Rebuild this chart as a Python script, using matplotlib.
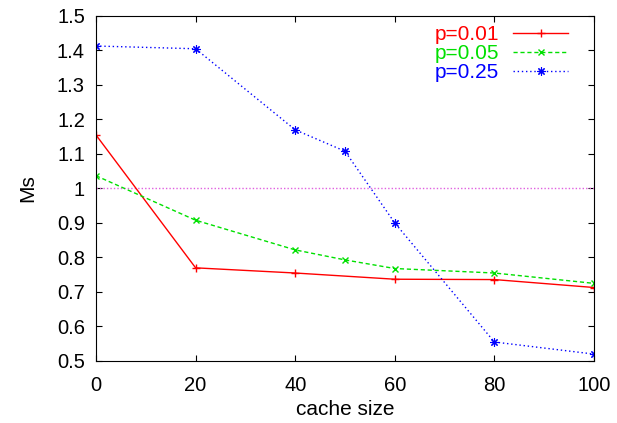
import matplotlib
matplotlib.use("Agg")
import matplotlib.pyplot as plt

plt.rcParams['font.family'] = ['Liberation Sans', 'DejaVu Sans']

# data
cache_x = [0, 20, 40, 60, 80, 100]
p001 = [1.155, 0.77, 0.755, 0.737, 0.736, 0.713]
cache_x2 = [0, 20, 40, 50, 60, 80, 100]
p005 = [1.037, 0.908, 0.822, 0.793, 0.768, 0.755, 0.725]
p025 = [1.413, 1.405, 1.170, 1.108, 0.900, 0.555, 0.520]

fig = plt.figure(figsize=(6.17, 4.23), dpi=100)
ax = fig.add_axes([0.1556, 0.1466, 0.8071, 0.8156])

ax.plot([0, 100], [1, 1], color='#e060e0', linestyle=(0, (1, 1.5)), linewidth=1)
ax.plot(cache_x, p001, color='red', linewidth=1, marker='+', markersize=6, label='p=0.01')
ax.plot(cache_x2, p005, color='#00e000', linewidth=1, linestyle=(0, (3, 2)),
        marker='x', markersize=5, label='p=0.05')
ax.plot(cache_x2, p025, color='blue', linewidth=1, linestyle=(0, (1, 2)),
        marker=(8, 2, 0), markersize=6, markeredgewidth=0.8, label='p=0.25')

ax.set_xlim(0, 100)
ax.set_ylim(0.5, 1.5)
ax.set_xticks(range(0, 101, 20))
ax.set_yticks([0.5, 0.6, 0.7, 0.8, 0.9, 1, 1.1, 1.2, 1.3, 1.4, 1.5])
ax.set_yticklabels(['0.5', '0.6', '0.7', '0.8', '0.9', '1', '1.1', '1.2', '1.3', '1.4', '1.5'])
ax.tick_params(direction='in', top=True, right=True, labelsize=14.5, length=4)
ax.tick_params(axis='x', pad=11)
ax.tick_params(axis='y', pad=8)
ax.set_xlabel('cache size', fontsize=15, va='center')
ax.set_ylabel('Ms', fontsize=15, va='center')
ax.xaxis.set_label_coords(0.5, -0.142)
ax.yaxis.set_label_coords(-0.1365, 0.5)

leg = ax.legend(loc='upper right', bbox_to_anchor=(0.961, 0.991), frameon=False,
                markerfirst=False, fontsize=15, labelcolor='linecolor',
                handlelength=2.64, borderaxespad=0, borderpad=0.3,
                labelspacing=0.0, handletextpad=0.67)

fig.savefig('out.png', dpi=100)
